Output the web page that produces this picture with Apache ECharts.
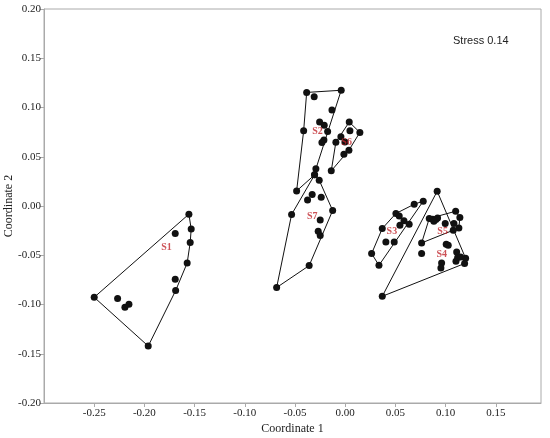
<!DOCTYPE html>
<html>
<head>
<meta charset="utf-8">
<script src="https://cdn.jsdelivr.net/npm/echarts@6/dist/echarts.min.js"></script>
<style>html,body{margin:0;padding:0;background:#fff}#c{width:550px;height:438px}</style>
</head>
<body>
<div id="c"></div>
<script>
// ---- data ----
const groupNames = ['S1','S2','S3','S4','S5','S6','S7'];
const s1 = [[-0.1557,-0.0083],[-0.1534,-0.0233],[-0.1544,-0.0371],[-0.1693,-0.0279],[-0.1574,-0.0578],[-0.1693,-0.0744],[-0.1689,-0.0859],[-0.2500,-0.0927],[-0.2267,-0.0940],[-0.2154,-0.0998],[-0.2194,-0.1028],[-0.1962,-0.1422]];
const s1Hull = [0,1,2,4,6,11,7];
const s2 = [[-0.0384,0.1153],[-0.0040,0.1175],[-0.0309,0.1109],[-0.0132,0.0974],[-0.0255,0.0852],[-0.0209,0.0821],[-0.0175,0.0757],[-0.0414,0.0763],[-0.0212,0.0669],[-0.0232,0.0645],[-0.0292,0.0377],[-0.0305,0.0316],[-0.0484,0.0153]];
const s2Hull = [0,1,10,11,12,7];
const s3 = [[0.0777,0.0049],[0.0687,0.0018],[0.0505,-0.0076],[0.0538,-0.0101],[0.0585,-0.0151],[0.0637,-0.0185],[0.0545,-0.0195],[0.0369,-0.0229],[0.0405,-0.0365],[0.0488,-0.0365],[0.0263,-0.0483],[0.0336,-0.0602]];
const s3Hull = [0,11,10,7,2,1];
const s4 = [[0.0916,0.0150],[0.1199,-0.0530],[0.1189,-0.0584],[0.1006,-0.0388],[0.1026,-0.0398],[0.0761,-0.0483],[0.1110,-0.0466],[0.1120,-0.0523],[0.1103,-0.0561],[0.1149,-0.0517],[0.0960,-0.0578],[0.0953,-0.0629],[0.0369,-0.0917]];
const s4Hull = [0,1,2,12];
const s5 = [[0.0837,-0.0127],[0.0871,-0.0134],[0.0903,-0.0137],[0.0920,-0.0121],[0.0883,-0.0154],[0.1100,-0.0053],[0.1142,-0.0117],[0.1083,-0.0178],[0.0996,-0.0178],[0.1132,-0.0223],[0.1076,-0.0246],[0.0761,-0.0375]];
const s5Hull = [0,5,6,9,10,11];
const s6 = [[0.0040,0.0852],[0.0146,0.0747],[0.0047,0.0763],[-0.0043,0.0702],[-0.0093,0.0648],[-0.0003,0.0651],[0.0037,0.0567],[-0.0013,0.0526],[-0.0139,0.0357]];
const s6Hull = [0,1,6,8,4];
const s7 = [[-0.0305,0.0316],[-0.0259,0.0262],[-0.0329,0.0117],[-0.0375,0.0062],[-0.0239,0.0089],[-0.0534,-0.0086],[-0.0125,-0.0046],[-0.0249,-0.0141],[-0.0269,-0.0256],[-0.0249,-0.0300],[-0.0359,-0.0605],[-0.0683,-0.0828]];
const s7Hull = [0,1,6,10,11,5];
const labelPos = [[-0.178,-0.0416],[-0.0276,0.0762],[0.0465,-0.0254],[0.0961,-0.0491],[0.0970,-0.0254],[0.0014,0.0641],[-0.0329,-0.0104]];
const xTicks = [-0.25,-0.20,-0.15,-0.10,-0.05,0.00,0.05,0.10,0.15];
const yTicks = [-0.20,-0.15,-0.10,-0.05,0.00,0.05,0.10,0.15,0.20];
const stressText = 'Stress 0.14';

const groups = [[s1,s1Hull],[s2,s2Hull],[s3,s3Hull],[s4,s4Hull],[s5,s5Hull],[s6,s6Hull],[s7,s7Hull]];

const series = [];
groups.forEach(function(g, i){
  const pts = g[0], hull = g[1];
  const poly = hull.map(function(k){return pts[k];});
  poly.push(pts[hull[0]]);
  series.push({type:'line', name: groupNames[i]+' hull', data: poly, symbol:'none', silent:true,
    lineStyle:{color:'#111', width:1}, z:2, animation:false});
});
groups.forEach(function(g, i){
  series.push({type:'scatter', name: groupNames[i], data: g[0], symbol:'circle', symbolSize:7,
    itemStyle:{color:'#111', opacity:1}, z:3, animation:false});
});
series.push({type:'scatter', name:'labels', symbolSize:0, z:4, animation:false,
  data: labelPos.map(function(p,i){return {value:p, name:groupNames[i]};}),
  label:{show:true, position:'inside', formatter:'{b}', color:'#c0272d', fontFamily:'Liberation Serif', fontWeight:'bold', fontSize:10}
});

const axisCommon = {
  axisLine:{show:true, onZero:false, lineStyle:{color:'#aaaaaa', width:1}},
  axisTick:{show:true, inside:false, length:4, lineStyle:{color:'#aaaaaa'}},
  splitLine:{show:false},
  nameMoveOverlap:false,
  nameTextStyle:{fontFamily:'Liberation Serif', fontSize:12, color:'#222'}
};

const chart = echarts.init(document.getElementById('c'), null, {renderer:'canvas'});
chart.setOption({
  backgroundColor:'#fff',
  animation:false,
  grid:{left:44, right:9, top:9, bottom:35, show:true, borderColor:'#aaaaaa', borderWidth:1, outerBoundsMode:'none'},
  xAxis: Object.assign({}, axisCommon, {
    type:'value', min:-0.30, max:0.195, interval:0.05,
    name:'Coordinate 1', nameLocation:'middle', nameGap:20,
    axisTick:Object.assign({}, axisCommon.axisTick, {customValues:xTicks}),
    axisLabel:{customValues:xTicks, formatter:function(v){return v.toFixed(2);}, fontFamily:'Liberation Serif', fontSize:11, color:'#222', margin:5}
  }),
  yAxis: Object.assign({}, axisCommon, {
    type:'value', min:-0.20, max:0.20, interval:0.05,
    name:'Coordinate 2', nameLocation:'middle', nameGap:29, nameRotate:90,
    axisTick:Object.assign({}, axisCommon.axisTick, {customValues:yTicks}),
    axisLabel:{customValues:yTicks, formatter:function(v){return v.toFixed(2);}, fontFamily:'Liberation Serif', fontSize:11, color:'#222', margin:3}
  }),
  graphic:[{type:'text', left:453, top:35, style:{text:stressText, fontFamily:'Liberation Sans', fontSize:11, fill:'#222'}}],
  series: series
});
</script>
</body>
</html>
